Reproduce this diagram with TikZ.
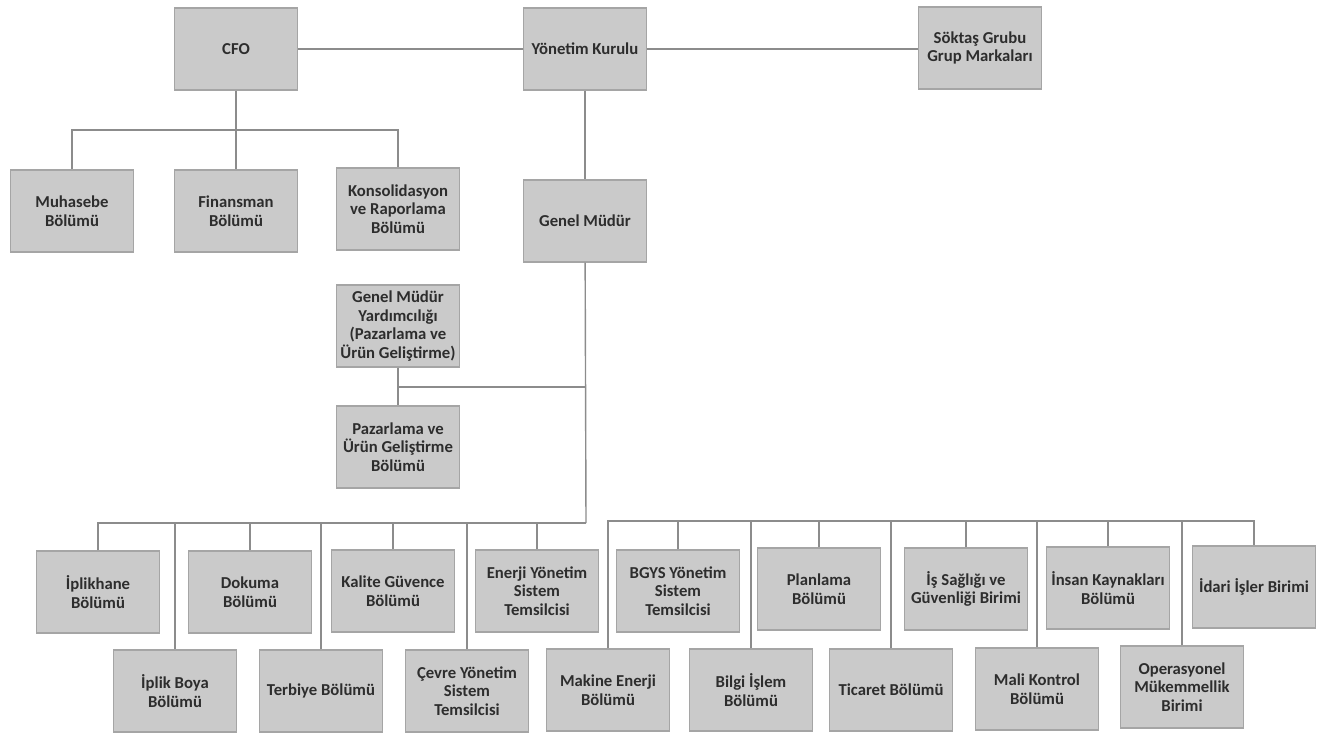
\documentclass[tikz,border=0pt]{standalone}
\usepackage{fontspec}
\setmainfont{Carlito}
\usepackage{tikz}

\definecolor{boxgray}{RGB}{202,202,202}
\definecolor{edgegray}{RGB}{165,165,165}
\definecolor{linegray}{RGB}{140,140,140}
\definecolor{textgray}{RGB}{45,45,45}

\tikzset{
  unit/.style={draw=edgegray,fill=boxgray,line width=0.8pt,align=center,
    minimum width=2.46cm,minimum height=1.64cm,inner sep=1pt,
    text=textgray,font=\fontsize{9.5}{10.5}\selectfont\bfseries},
  link/.style={draw=linegray,line width=0.8pt}
}

\begin{document}
\begin{tikzpicture}[x=0.02cm,y=-0.02cm]
    \useasboundingbox (0,0) rectangle (1322,733);

    % top level
    \node[unit] (cfo) at (236,49) {CFO};
    \node[unit] (yk) at (585,49) {Yönetim Kurulu};
    \node[unit] (soktas) at (980,48) {Söktaş Grubu\\Grup Markaları};
    \draw[link] (cfo) -- (yk);
    \draw[link] (yk) -- (yk -| soktas.west);

    % CFO side
    \node[unit] (muh) at (72,211) {Muhasebe\\Bölümü};
    \node[unit] (fin) at (236,211) {Finansman\\Bölümü};
    \node[unit] (kons) at (398,209) {Konsolidasyon\\ve Raporlama\\Bölümü};
    \coordinate (cfobus) at (236,130);
    \draw[link] (cfo) -- (fin);
    \draw[link] (muh) |- (cfobus) -| (kons);

    % general manager
    \node[unit] (gm) at (585,221) {Genel Müdür};
    \draw[link] (yk) -- (gm);
    \node[unit] (gmy) at (398,326) {Genel Müdür\\Yardımcılığı\\(Pazarlama ve\\Ürün Geliştirme)};
    \node[unit] (paz) at (398,447) {Pazarlama ve\\Ürün Geliştirme\\Bölümü};
    \coordinate (gmyjoin) at (586,387);
    \coordinate (gmbus) at (586,523);
    \coordinate (rbus) at (610,521);
    \draw[link] (gm) -- (gmbus);
    \draw[link] (gmy) -- (paz);
    \draw[link] (gmyjoin) -- (gmyjoin -| gmy);

    % departments, upper row
    \node[unit] (ipl) at (98,592) {İplikhane\\Bölümü};
    \node[unit] (dok) at (250,592) {Dokuma\\Bölümü};
    \node[unit] (kal) at (393,591) {Kalite Güvence\\Bölümü};
    \node[unit] (enerji) at (537,591) {Enerji Yönetim\\Sistem\\Temsilcisi};
    \node[unit] (bgys) at (678,591) {BGYS Yönetim\\Sistem\\Temsilcisi};
    \node[unit] (plan) at (819,589) {Planlama\\Bölümü};
    \node[unit] (isg) at (966,589) {İş Sağlığı ve\\Güvenliği Birimi};
    \node[unit] (ik) at (1108,588) {İnsan Kaynakları\\Bölümü};
    \node[unit] (idari) at (1254,587) {İdari İşler Birimi};

    % departments, lower row
    \node[unit] (iboya) at (175,691) {İplik Boya\\Bölümü};
    \node[unit] (terb) at (321,691) {Terbiye Bölümü};
    \node[unit] (cevre) at (467,691) {Çevre Yönetim\\Sistem\\Temsilcisi};
    \node[unit] (makine) at (608,690) {Makine Enerji\\Bölümü};
    \node[unit] (bilgi) at (751,690) {Bilgi İşlem\\Bölümü};
    \node[unit] (ticaret) at (891,690) {Ticaret Bölümü};
    \node[unit] (mali) at (1037,689) {Mali Kontrol\\Bölümü};
    \node[unit] (opex) at (1182,687) {Operasyonel\\Mükemmellik\\Birimi};

    % left bus
    \draw[link] (ipl) |- (gmbus);
    \foreach \n in {iboya,dok,terb,kal,cevre,enerji}
      \draw[link] (\n) -- (\n |- gmbus);

    % right bus
    \draw[link] (makine) |- (rbus) -- (rbus -| idari) -- (idari);
    \foreach \n in {bgys,bilgi,plan,ticaret,isg,mali,ik,opex}
      \draw[link] (\n) -- (\n |- rbus);
\end{tikzpicture}
\end{document}
